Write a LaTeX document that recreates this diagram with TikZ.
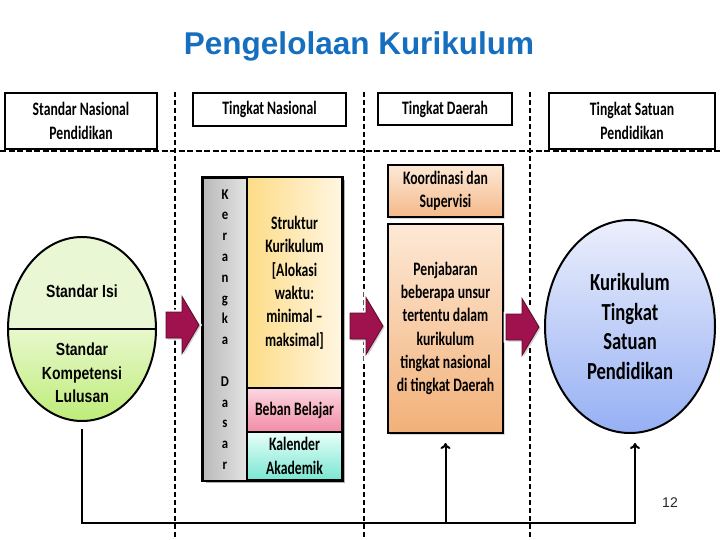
\documentclass[tikz,border=0pt]{standalone}
\usepackage{fontspec}
\setmainfont{Carlito}
\newfontfamily\calb[FakeStretch=0.72]{Carlito}
\newfontfamily\calk[FakeStretch=0.85]{Carlito}
\newfontfamily\calr[FakeStretch=0.76]{Carlito}
\newfontfamily\arnb[FakeStretch=0.8]{Liberation Sans}
\newfontfamily\arialf{Liberation Sans}
\usetikzlibrary{shapes.geometric,arrows.meta,shadows,calc}
\definecolor{titleblue}{RGB}{22,110,190}
\definecolor{arrowc}{RGB}{160,18,78}
\definecolor{arrowd}{RGB}{90,10,44}
\begin{document}
\begin{tikzpicture}[x=1pt,y=-1pt,
  hdrbox/.style={draw=black,line width=2pt,fill=white,inner sep=0pt,align=center,
    font={\calb\bfseries\fontsize{19}{24}\selectfont}},
  cell/.style={draw=black,line width=1.6pt,inner sep=0pt,align=center,
    font={\calb\bfseries\fontsize{19}{23.3}\selectfont}},
  divline/.style={line width=1.1pt,dash pattern=on 5pt off 3pt},
  hline/.style={line width=1.8pt,dash pattern=on 6pt off 2.5pt},
  conn/.style={line width=2pt,draw=black},
  arrowst/.style={fill=arrowc,draw=arrowd,line width=0.8pt,line join=miter,
    preaction={draw=white,line width=5pt},
    drop shadow={shadow xshift=1.5pt,shadow yshift=-1.5pt,opacity=0.35}},
  blockarrow/.pic={\path[arrowst] (-16,-13) -- (0,-13) -- (0,-28.5) -- (17,0) -- (0,28.5) -- (0,13) -- (-16,13) -- cycle;},
  boxshadow/.style={drop shadow={shadow xshift=2pt,shadow yshift=-2pt,opacity=0.3}}
]
\useasboundingbox (0,0) rectangle (720,540);

% title
\node[anchor=base,text=titleblue,font={\arialf\bfseries\fontsize{31.5}{36}\selectfont}] (title) at (359,55) {Pengelolaan Kurikulum};

% dashed separators
\draw[divline] (175,92) -- (175,540);
\draw[divline] (364,92) -- (364,540);
\draw[divline] (530,92) -- (530,540);
\draw[hline] (0,151) -- (720,151);

% header boxes
\node[hdrbox,minimum width=152pt,minimum height=56pt] (h1) at (81,121) {Standar Nasional\\Pendidikan};
\node[hdrbox,minimum width=153pt,minimum height=33pt] (h2) at (269.5,109.5) {Tingkat Nasional};
\node[hdrbox,minimum width=134pt,minimum height=32pt] (h3) at (445,109) {Tingkat Daerah};
\node[hdrbox,minimum width=166pt,minimum height=56pt] (h4) at (632,121) {Tingkat Satuan\\Pendidikan};

% left ellipse
\node[ellipse,draw=black,line width=2pt,minimum width=148pt,minimum height=184pt,inner sep=0pt,
  path picture={
    \fill[color={rgb,255:red,234;green,247;blue,213}] (path picture bounding box.north west) rectangle (path picture bounding box.east);
    \shade[top color={rgb,255:red,232;green,248;blue,205},bottom color={rgb,255:red,190;green,236;blue,120}]
      (path picture bounding box.west) rectangle (path picture bounding box.south east);
  }] (sl) at (82,329) {};
\draw[line width=2pt] (sl.west) -- (sl.east);
\node[align=center,font={\arnb\bfseries\fontsize{17.5}{23.3}\selectfont}] (si) at (82,291) {Standar Isi};
\node[align=center,font={\arnb\bfseries\fontsize{17.5}{23.3}\selectfont}] (skl) at (82,373) {Standar\\Kompetensi\\Lulusan};

% Kerangka Dasar block
\fill[black,opacity=0.3] (206,180) rectangle (345,483);
\node[cell,minimum width=44pt,minimum height=303pt,left color={rgb,255:red,185;green,185;blue,185},right color={rgb,255:red,228;green,228;blue,228},
  font={\calk\bfseries\fontsize{15}{20.8}\selectfont}] (kd) at (225,329.5)
  {K\\e\\r\\a\\n\\g\\k\\a\\[20.8pt]D\\a\\s\\a\\r};
\node[cell,minimum width=95pt,minimum height=211pt,left color={rgb,255:red,253;green,220;blue,135},right color={rgb,255:red,255;green,246;blue,226}] (sk) at (294.5,282.5)
  {Struktur\\Kurikulum\\{[}Alokasi\\waktu:\\minimal\,–\\maksimal{]}};
\node[cell,minimum width=95pt,minimum height=44pt,top color={rgb,255:red,252;green,214;blue,224},bottom color={rgb,255:red,242;green,140;blue,166}] (bb) at (294.5,410) {Beban Belajar};
\node[cell,minimum width=95pt,minimum height=48pt,top color={rgb,255:red,232;green,255;blue,248},bottom color={rgb,255:red,120;green,230;blue,210}] (ka) at (294.5,456) {Kalender\\Akademik};
\draw[line width=2.6pt] (kd.north west) rectangle (ka.south east);

% Daerah boxes
\node[cell,line width=2pt,boxshadow,minimum width=115pt,minimum height=52pt,top color={rgb,255:red,253;green,233;blue,214},bottom color={rgb,255:red,244;green,185;blue,138}] (ks) at (445.5,191) {Koordinasi dan\\Supervisi};
\node[cell,line width=2pt,boxshadow,minimum width=115pt,minimum height=209pt,top color={rgb,255:red,253;green,233;blue,214},bottom color={rgb,255:red,242;green,176;blue,120}] (pj) at (445.5,328.5)
  {Penjabaran\\beberapa unsur\\tertentu dalam\\kurikulum\\tingkat nasional\\di tingkat Daerah};

% right ellipse
\node[ellipse,draw=black,line width=2pt,minimum width=170pt,minimum height=213pt,inner sep=0pt,
  top color={rgb,255:red,236;green,239;blue,252},bottom color={rgb,255:red,150;green,176;blue,244},
  align=center,font={\calr\bfseries\fontsize{24.5}{29.5}\selectfont}] (kts) at (630,326.5)
  {Kurikulum\\Tingkat\\Satuan\\Pendidikan};

% block arrows
\pic (ar1) at (182,325) {blockarrow};
\pic (ar2) at (366,326) {blockarrow};
\pic (ar3) at (522,327) {blockarrow};

% bottom connectors
\coordinate (jr) at (635,523);
\draw[conn,-{To[length=6pt,width=10pt]}] ([yshift=-7pt]sl.south) |- (jr) -- ($(jr |- kts.south)+(0,9)$);
\draw[conn,-{To[length=6pt,width=10pt]}] (pj.south |- jr) -- ($(pj.south)+(0,9)$);

% page number
\node[font={\arialf\fontsize{14}{16}\selectfont},text=black!85] (pn) at (670,503) {12};
\end{tikzpicture}
\end{document}
